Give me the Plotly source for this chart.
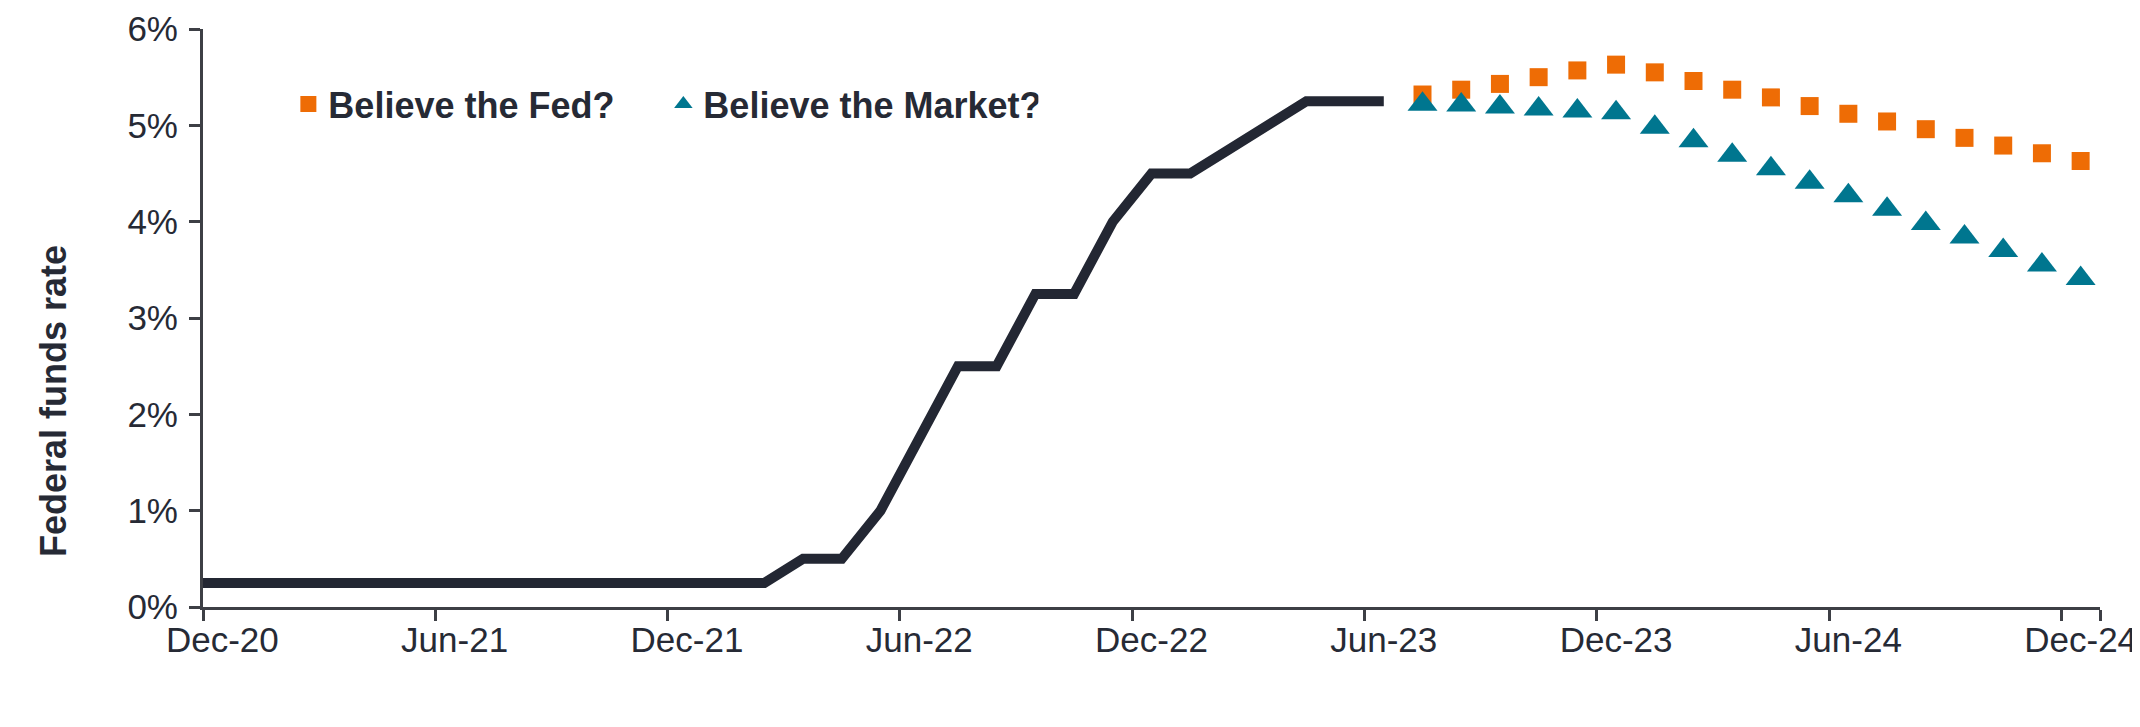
import plotly.graph_objects as go

months = ["Nov-20", "Dec-20",
          "Jan-21", "Feb-21", "Mar-21", "Apr-21", "May-21", "Jun-21",
          "Jul-21", "Aug-21", "Sep-21", "Oct-21", "Nov-21", "Dec-21",
          "Jan-22", "Feb-22", "Mar-22", "Apr-22", "May-22", "Jun-22",
          "Jul-22", "Aug-22", "Sep-22", "Oct-22", "Nov-22", "Dec-22",
          "Jan-23", "Feb-23", "Mar-23", "Apr-23", "May-23", "Jun-23",
          "Jul-23", "Aug-23", "Sep-23", "Oct-23", "Nov-23", "Dec-23",
          "Jan-24", "Feb-24", "Mar-24", "Apr-24", "May-24", "Jun-24",
          "Jul-24", "Aug-24", "Sep-24", "Oct-24", "Nov-24", "Dec-24"]

actual_months = months[:32]
actual_rate = [0.25, 0.25,
               0.25, 0.25, 0.25, 0.25, 0.25, 0.25,
               0.25, 0.25, 0.25, 0.25, 0.25, 0.25,
               0.25, 0.25, 0.50, 0.50, 1.00, 1.75,
               2.50, 2.50, 3.25, 3.25, 4.00, 4.50,
               4.50, 4.75, 5.00, 5.25, 5.25, 5.25]

forecast_months = months[32:]
fed_path = [5.32, 5.37, 5.43, 5.50, 5.57, 5.63, 5.55, 5.46, 5.37,
            5.29, 5.20, 5.12, 5.04, 4.96, 4.87, 4.79, 4.71, 4.63]
market_path = [5.22, 5.21, 5.19, 5.17, 5.15, 5.13, 4.98, 4.84, 4.69,
               4.55, 4.41, 4.27, 4.13, 3.98, 3.84, 3.70, 3.55, 3.41]

tick_labels = ["Dec-20", "Jun-21", "Dec-21", "Jun-22", "Dec-22",
               "Jun-23", "Dec-23", "Jun-24", "Dec-24"]
y_ticks = [0, 1, 2, 3, 4, 5, 6]
y_title = "Federal funds rate"

FONT = "Arial, Liberation Sans, sans-serif"
TEXT = "#262a35"
AXIS = "#3d3f45"

W, H = 2140, 727
ML, MR, MT, MB = 195, 48, 21, 128

fig = go.Figure()
fig.add_trace(go.Scatter(
    x=actual_months, y=actual_rate, mode="lines",
    line=dict(color="#232733", width=10), showlegend=False,
    hoverinfo="skip"))
fig.add_trace(go.Scatter(
    x=forecast_months, y=fed_path, mode="markers", name="Believe the Fed?",
    marker=dict(symbol="square", size=18, color="#ee6c05")))
fig.add_trace(go.Scatter(
    x=forecast_months, y=market_path, mode="markers", name="Believe the Market?",
    marker=dict(symbol="triangle-up", size=26, color="#00768f")))

plot_w = W - ML - MR
plot_h = H - MT - MB

fig.update_layout(
    width=W, height=H,
    margin=dict(l=ML, r=MR, t=MT, b=MB, autoexpand=False),
    paper_bgcolor="white", plot_bgcolor="white",
    font=dict(family=FONT, size=35, color=TEXT),
    legend=dict(orientation="h", x=0.045, xanchor="left", y=0.870, yanchor="middle",
                font=dict(family=FONT, size=36, color=TEXT, weight="bold"),
                bgcolor="rgba(0,0,0,0)", entrywidth=330, entrywidthmode="pixels",
                traceorder="normal"),
    annotations=[dict(text=y_title, textangle=-90,
                      x=(45 - ML) / plot_w, y=(H - MB - 393) / plot_h,
                      xref="paper", yref="paper", xanchor="center", yanchor="middle",
                      showarrow=False,
                      font=dict(family=FONT, size=36, color=TEXT, weight="bold"))],
)

fig.update_xaxes(
    type="category", categoryorder="array", categoryarray=months,
    range=[0.5, len(months) - 0.5],
    tickmode="array", tickvals=tick_labels, ticktext=tick_labels,
    tickson="boundaries", tickangle=0, automargin=False,
    showline=True, linecolor=AXIS, linewidth=3,
    ticks="outside", ticklen=11, tickwidth=3, tickcolor=AXIS,
    showgrid=False, zeroline=False,
    tickfont=dict(family=FONT, size=35, color=TEXT))
fig.update_yaxes(
    range=[0, 6], tickvals=y_ticks, ticktext=[f"{v}%" for v in y_ticks],
    automargin=False,
    showline=True, linecolor=AXIS, linewidth=3,
    ticks="outside", ticklen=11, tickwidth=3, tickcolor=AXIS,
    showgrid=False, zeroline=False, ticklabelstandoff=4,
    tickfont=dict(family=FONT, size=35, color=TEXT))

fig.write_html("out.html")
